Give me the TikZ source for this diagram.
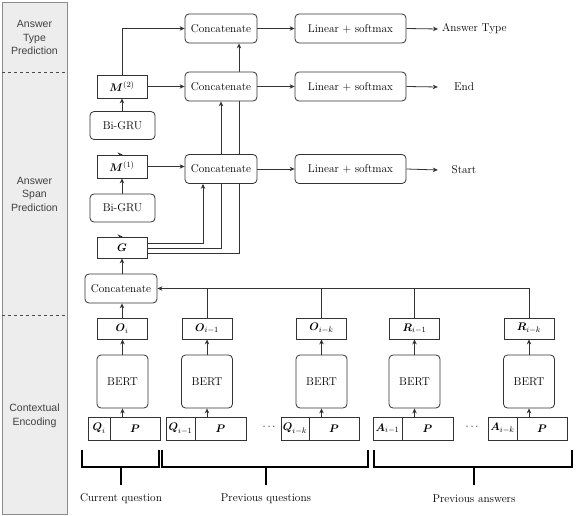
\documentclass[tikz,border=0pt]{standalone}
\usepackage{amsmath}
\usepackage{fontspec}
\newfontfamily\panelfont{Liberation Sans}
\usetikzlibrary{arrows.meta,backgrounds}

\tikzset{
  box/.style={draw=black!80, line width=0.8pt, fill=white, inner sep=0pt,
    minimum width=50pt, minimum height=21pt},
  rbox/.style={box, rounded corners=4pt},
  catbox/.style={rbox, minimum width=72pt, minimum height=29pt},
  linbox/.style={rbox, minimum width=111pt, minimum height=29pt},
  grubox/.style={rbox, minimum width=65pt, minimum height=28pt},
  bertbox/.style={rbox, minimum width=51pt, minimum height=53pt},
  cell/.style={box, minimum height=23pt},
  link/.style={draw=black!80, line width=0.8pt},
  arr/.style={link, -{Stealth[length=5pt,width=4.5pt]}},
  bracket/.style={line width=1.6pt},
  panel/.style={align=center, text=black!75, font=\panelfont\fontsize{10.5}{13.5}\selectfont}
}

\begin{document}
\begin{tikzpicture}[x=1pt,y=-1pt,font=\fontsize{11.3}{13}\selectfont]
\useasboundingbox (0,0) rectangle (576,516);

% side panel
\draw[black!45, fill=black!7] (2,2) rectangle (67,514);
\draw[dashed, black!70] (2,72) -- (67,72);
\draw[dashed, black!70] (2,315) -- (67,315);
\node[panel] (ptype) at (34.5,37.5) {Answer\\Type\\Prediction};
\node[panel] (pspan) at (34.5,194) {Answer\\Span\\Prediction};
\node[panel] (penc) at (34.5,416) {Contextual\\Encoding};

% prediction layers
\node[catbox] (cat3) at (221,28.5) {Concatenate};
\node[catbox] (cat2) at (221,86.5) {Concatenate};
\node[catbox] (cat1) at (221,169) {Concatenate};
\node[linbox] (lin3) at (350.5,28.5) {Linear + softmax};
\node[linbox] (lin2) at (350.5,86.5) {Linear + softmax};
\node[linbox] (lin1) at (350.5,169) {Linear + softmax};
\node[anchor=west, inner sep=4pt] (otype) at (438,29) {Answer Type};
\node[minimum width=52pt, inner sep=0pt] (oend) at (464,87) {End};
\node[minimum width=52pt, inner sep=0pt] (ostart) at (464,170) {Start};

\node[box, minimum height=23pt] (m2) at (122,86.5) {$\boldsymbol{M}^{(2)}$};
\node[grubox] (gru2) at (122.5,125.5) {Bi-GRU};
\node[box, minimum height=23pt] (m1) at (122,166.5) {$\boldsymbol{M}^{(1)}$};
\node[grubox] (gru1) at (122.5,208) {Bi-GRU};
\node[box] (g) at (122,247.5) {$\boldsymbol{G}$};
\node[catbox] (cat0) at (121,288.5) {Concatenate};

% encoders
\node[box] (o1) at (122,328.5) {$\boldsymbol{O}_i$};
\node[box] (o2) at (207,328.5) {$\boldsymbol{O}_{i-1}$};
\node[box] (o3) at (321.5,328.5) {$\boldsymbol{O}_{i-k}$};
\node[box] (r4) at (414.5,328.5) {$\boldsymbol{R}_{i-1}$};
\node[box] (r5) at (529,328.5) {$\boldsymbol{R}_{i-k}$};

\node[bertbox] (b1) at (122.5,381.5) {BERT};
\node[bertbox] (b2) at (207,381.5) {BERT};
\node[bertbox] (b3) at (321.5,381.5) {BERT};
\node[bertbox] (b4) at (414.5,381.5) {BERT};
\node[bertbox] (b5) at (529,381.5) {BERT};

\node[cell, minimum width=22pt] (q1) at (99,428.5) {$\boldsymbol{Q}_i$};
\node[cell] (p1) at (135,428.5) {$\boldsymbol{P}$};
\node[cell, minimum width=29pt] (q2) at (180.5,428.5) {$\boldsymbol{Q}_{i-1}$};
\node[cell, minimum width=51pt] (p2) at (220.5,428.5) {$\boldsymbol{P}$};
\node[cell, minimum width=28pt] (q3) at (295,428.5) {$\boldsymbol{Q}_{i-k}$};
\node[cell] (p3) at (334,428.5) {$\boldsymbol{P}$};
\node[cell, minimum width=29pt] (a4) at (387.5,428.5) {$\boldsymbol{A}_{i-1}$};
\node[cell, minimum width=51pt] (p4) at (427.5,428.5) {$\boldsymbol{P}$};
\node[cell, minimum width=29pt] (a5) at (502.5,428.5) {$\boldsymbol{A}_{i-k}$};
\node[cell] (p5) at (542,428.5) {$\boldsymbol{P}$};
\node (dots1) at (270,427) {$\cdots$};
\node (dots2) at (473,427) {$\cdots$};

% groups
\draw[bracket] (82,450) -- (82,467) -- (159,467) -- (159,450);
\draw[bracket] (121,467) -- (121,485);
\draw[bracket] (162,450) -- (162,467) -- (368,467) -- (368,450);
\draw[bracket] (266,467) -- (266,485);
\draw[bracket] (374,450) -- (374,467) -- (572,467) -- (572,450);
\draw[bracket] (474,467) -- (474,485);
\node (lcur) at (121,499) {Current question};
\node (lprevq) at (266,499) {Previous questions};
\node (lpreva) at (474,499) {Previous answers};

\begin{scope}[on background layer]
% inputs to encoders
\draw[arr] (p1.north -| b1.south) -- (b1.south);
\draw[arr] (p2.north -| b2.south) -- (b2.south);
\draw[arr] (p3.north -| b3.south) -- (b3.south);
\draw[arr] (p4.north -| b4.south) -- (b4.south);
\draw[arr] (p5.north -| b5.south) -- (b5.south);
\draw[arr] (b1.north) -- (o1.south -| b1.north);
\draw[arr] (b2.north) -- (o2.south);
\draw[arr] (b3.north) -- (o3.south);
\draw[arr] (b4.north) -- (r4.south);
\draw[arr] (b5.north) -- (r5.south);
% history to concatenate
\draw[arr] (o1.north) -- (o1.north |- cat0.south);
\draw[arr] (r5.north) |- (cat0.east);
\draw[link] (o2.north) -- (o2.north |- cat0.east);
\draw[link] (o3.north) -- (o3.north |- cat0.east);
\draw[link] (r4.north) -- (r4.north |- cat0.east);
% span layers
\draw[arr] (cat0.north -| g.south) -- (g.south);
\draw[arr] (g.north) -- (g.north -| gru1.south);
\draw[arr] (gru1.north -| m1.south) -- (m1.south);
\draw[arr] (m1.north) -- (m1.north -| gru2.south);
\draw[arr] (gru2.north -| m2.south) -- (m2.south);
\draw[arr] (m2.north) |- (cat3.west);
\draw[arr] (m2.east) -- (cat2.west);
\draw[arr] (m1.east) -- (m1.east -| cat1.west);
\draw[arr] ([yshift=4.5pt]g.east) -| ([xshift=-18pt]cat1.south);
\draw[arr] ([yshift=-0.5pt]g.east) -| (cat2.south);
\draw[arr] ([yshift=-5.5pt]g.east) -| ([xshift=18pt]cat3.south);
% outputs
\draw[arr] (cat3.east) -- (lin3.west);
\draw[arr] (cat2.east) -- (lin2.west);
\draw[arr] (cat1.east) -- (lin1.west);
\draw[arr] (lin3.east) -- (otype.west);
\draw[arr] (lin2.east) -- (oend.west);
\draw[arr] (lin1.east) -- (ostart.west);
\end{scope}
\end{tikzpicture}
\end{document}
